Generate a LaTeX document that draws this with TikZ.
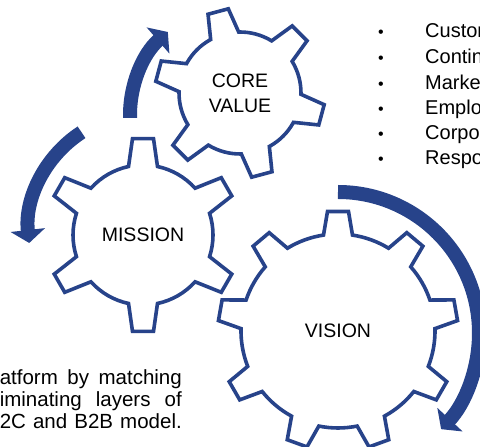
\documentclass[tikz,border=0pt]{standalone}
\usepackage{fontspec}
\setmainfont{Liberation Sans}
\usetikzlibrary{arrows.meta}
\definecolor{gearblue}{HTML}{27438A}

% Gear outline: centre x, centre y, number of teeth, angle of first tooth,
% tip radius, body radius. Teeth are trapezoids (29pt at the root, 21pt at the tip).
\newcommand\gearoutline[6]{%
  \pgfmathsetmacro\gb{asin(14.5/#6)}%
  \pgfmathsetmacro\gt{asin(10.5/#5)}%
  \pgfmathsetmacro\gs{360/#3}%
  \pgfmathsetmacro\ga{\gs-2*\gb}%
  \pgfmathtruncatemacro\gn{#3-1}%
  \begin{scope}[shift={(#1,#2)}]
    \draw[gear] ({#4-\gb}:#6)
      \foreach \k in {0,...,\gn}{
        -- ({#4+\k*\gs-\gt}:#5) -- ({#4+\k*\gs+\gt}:#5) -- ({#4+\k*\gs+\gb}:#6)
        arc[start angle={#4+\k*\gs+\gb}, delta angle=\ga, radius=#6]
      } -- cycle;
  \end{scope}}

\begin{document}
\begin{tikzpicture}[x=1pt,y=1pt,
  gear/.style={draw=gearblue, line width=3.6pt, fill=white, line join=miter},
  band/.style={draw=gearblue, line width=14pt,
    -{Triangle[width=34pt,length=13pt]}},
  gearlabel/.style={font=\fontsize{19.5}{25}\selectfont, align=center,
    text=black, inner sep=0pt},
  listtext/.style={font=\fontsize{20}{24}\selectfont, text=black, inner sep=0pt},
  listdot/.style={font=\fontsize{16}{18}\selectfont, text=black, inner sep=0pt},
  para/.style={font=\fontsize{20.5}{24}\selectfont, text=black, inner sep=0pt}]
\useasboundingbox (0,0) rectangle (480,447);
\clip (0,0) rectangle (480,447);

% the three gears
\gearoutline{240}{354}{6}{45}{85}{61}
\gearoutline{143}{212}{6}{90}{97}{70}
\gearoutline{338}{116}{9}{90}{120}{97}

\node[gearlabel] (core) at (240,354) {CORE\\VALUE};
\node[gearlabel] (mission) at (143,212) {MISSION};
\node[gearlabel] (vision) at (338,116) {VISION};

% curved arrows turning the gears
\draw[band] ([shift={(240,332)}]181.5:110) arc[start angle=181.5, end angle=131, radius=110];
\draw[band] ([shift={(145,217)}]123:116.5) arc[start angle=123, end angle=186.4, radius=116.5];
\draw[band] ([shift={(338,114)}]90:141) arc[start angle=90, end angle=-43, radius=141];

% bullet list
\foreach \t/\yb [count=\i] in {Customer/409.7, Continuous/383.7, Market/357.7,
    Employee/332, Corporate/307, Responsibility/282}{
  \node[listdot, anchor=base] (dot\i) at (381,\yb) {•};
  \node[listtext, anchor=base west] (item\i) at (425,\yb) {\t};
}

% justified paragraph, right edge at 182
\node[para, anchor=base east] (line1) at (182,62)
  {\setbox0\hbox{pl}\makebox[\dimexpr182pt+\wd0\relax][s]{platform by matching}};
\node[para, anchor=base east] (line2) at (182,40)
  {\setbox0\hbox{el}\makebox[\dimexpr182pt+\wd0\relax][s]{eliminating layers of}};
\node[para, anchor=base east] (line3) at (182,18.5)
  {\setbox0\hbox{B}\makebox[\dimexpr182pt+\wd0\relax][s]{B2C and B2B model.}};
\end{tikzpicture}
\end{document}
